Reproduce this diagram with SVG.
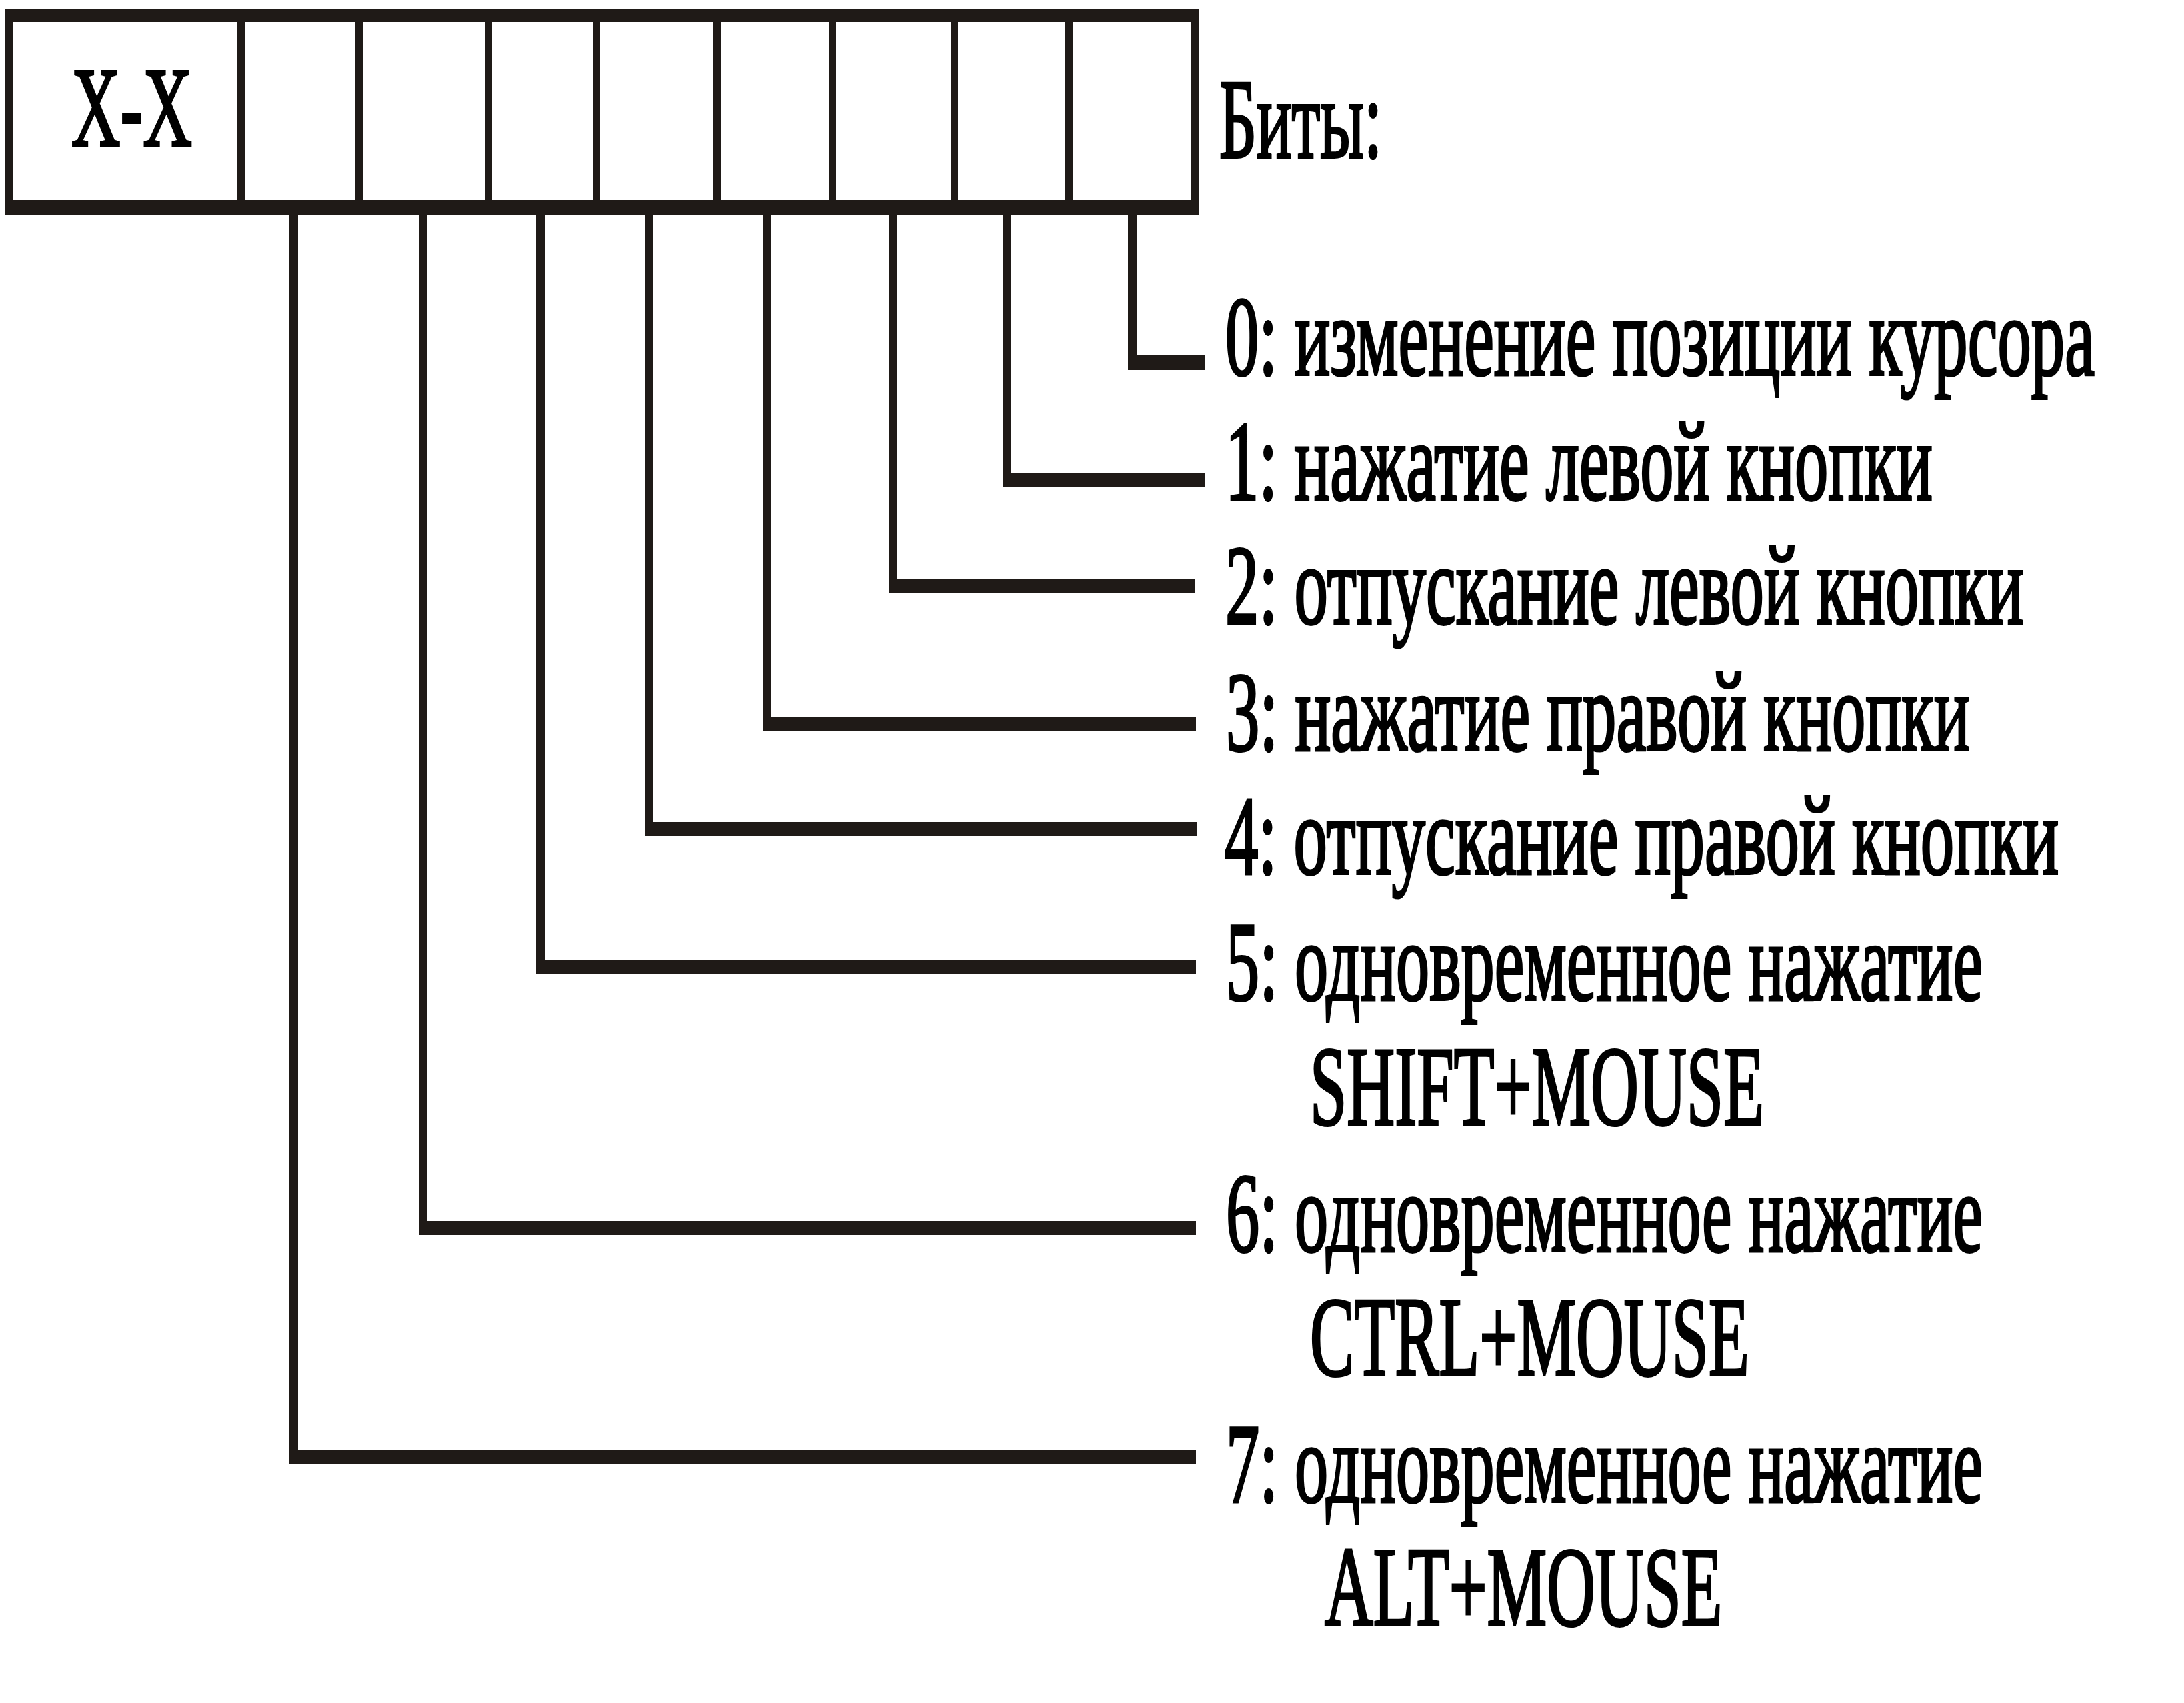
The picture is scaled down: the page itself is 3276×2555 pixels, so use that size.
<svg xmlns="http://www.w3.org/2000/svg" width="3276" height="2555" viewBox="0 0 3276 2555">
<style>
.ln{fill:#1f1a17;stroke:none}
text{font-family:'Liberation Serif','DejaVu Serif','Noto Serif',serif;font-size:170px;fill:#000;stroke:#000;stroke-width:4;lengthAdjust:spacingAndGlyphs}
</style>
<rect x="0" y="0" width="3276" height="2555" fill="#fff"/>
<g id="register">
<rect class="ln" x="8" y="13" width="1790" height="20"/>
<rect class="ln" x="8" y="300" width="1790" height="23"/>
<rect class="ln" x="8" y="13" width="12" height="310"/>
<rect class="ln" x="1787" y="13" width="11" height="310"/>
<rect class="ln" x="356" y="13" width="12" height="310"/>
<rect class="ln" x="533" y="13" width="12" height="310"/>
<rect class="ln" x="727" y="13" width="11" height="310"/>
<rect class="ln" x="889" y="13" width="11" height="310"/>
<rect class="ln" x="1070" y="13" width="12" height="310"/>
<rect class="ln" x="1243" y="13" width="11" height="310"/>
<rect class="ln" x="1426" y="13" width="11" height="310"/>
<rect class="ln" x="1598" y="13" width="12" height="310"/>
<text transform="translate(107,218) scale(0.58,1)" x="0" y="0" textLength="312" lengthAdjust="spacingAndGlyphs">X-X</text>
</g>
<g id="title"><text transform="translate(1829,236) scale(0.58,1)" x="0" y="0" textLength="421" lengthAdjust="spacingAndGlyphs">Биты:</text></g>
<g id="connectors">
<path class="ln" d="M1692 323 V555 H1808 V533 H1705 V323 Z"/>
<path class="ln" d="M1504 323 V730 H1808 V710 H1517 V323 Z"/>
<path class="ln" d="M1333 323 V890 H1793 V868 H1345 V323 Z"/>
<path class="ln" d="M1145 323 V1096 H1794 V1076 H1157 V323 Z"/>
<path class="ln" d="M968 323 V1254 H1796 V1233 H980 V323 Z"/>
<path class="ln" d="M804 323 V1461 H1794 V1440 H818 V323 Z"/>
<path class="ln" d="M628 323 V1853 H1794 V1832 H641 V323 Z"/>
<path class="ln" d="M433 323 V2197 H1794 V2176 H447 V323 Z"/>
</g>
<g id="bit0"><text transform="translate(1838,562) scale(0.58,1)" x="0" y="0" textLength="2248" lengthAdjust="spacingAndGlyphs">0: изменение позиции курсора</text></g>
<g id="bit1"><text transform="translate(1838,749) scale(0.58,1)" x="0" y="0" textLength="1829" lengthAdjust="spacingAndGlyphs">1: нажатие левой кнопки</text></g>
<g id="bit2"><text transform="translate(1838,935) scale(0.58,1)" x="0" y="0" textLength="2064" lengthAdjust="spacingAndGlyphs">2: отпускание левой кнопки</text></g>
<g id="bit3"><text transform="translate(1839,1125) scale(0.58,1)" x="0" y="0" textLength="1924" lengthAdjust="spacingAndGlyphs">3: нажатие правой кнопки</text></g>
<g id="bit4"><text transform="translate(1837,1311) scale(0.58,1)" x="0" y="0" textLength="2157" lengthAdjust="spacingAndGlyphs">4: отпускание правой кнопки</text></g>
<g id="bit5"><text transform="translate(1839,1500) scale(0.58,1)" x="0" y="0" textLength="1957" lengthAdjust="spacingAndGlyphs">5: одновременное нажатие</text>
<text transform="translate(1965,1687) scale(0.58,1)" x="0" y="0" textLength="1174" lengthAdjust="spacingAndGlyphs">SHIFT+MOUSE</text></g>
<g id="bit6"><text transform="translate(1839,1877) scale(0.58,1)" x="0" y="0" textLength="1957" lengthAdjust="spacingAndGlyphs">6: одновременное нажатие</text>
<text transform="translate(1965,2063) scale(0.58,1)" x="0" y="0" textLength="1136" lengthAdjust="spacingAndGlyphs">CTRL+MOUSE</text></g>
<g id="bit7"><text transform="translate(1839,2253) scale(0.58,1)" x="0" y="0" textLength="1957" lengthAdjust="spacingAndGlyphs">7: одновременное нажатие</text>
<text transform="translate(1987,2438) scale(0.58,1)" x="0" y="0" textLength="1028" lengthAdjust="spacingAndGlyphs">ALT+MOUSE</text></g>
</svg>
